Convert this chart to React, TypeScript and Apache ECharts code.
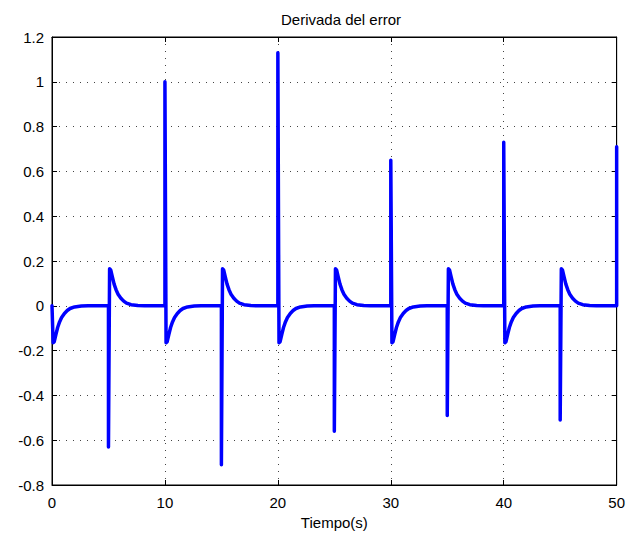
import React, { useEffect, useRef } from "react";
import * as echarts from "echarts";

const titleText = "Derivada del error";
const xLabelText = "Tiempo(s)";
const xTicks = [0, 10, 20, 30, 40, 50];
const yTicks = [-0.8, -0.6, -0.4, -0.2, 0, 0.2, 0.4, 0.6, 0.8, 1, 1.2];

// Times at which the error derivative spikes, and the spike values
const spikeTimes = [5, 10, 15, 20, 25, 30, 35, 40, 45, 50];
const spikePeaks = [-0.63, 1.0, -0.71, 1.13, -0.56, 0.65, -0.49, 0.73, -0.51, 0.71];

// Transient after each spike (time after spike, magnitude)
const recoveryOffsets = [0.1, 0.2, 0.35, 0.5, 0.67, 0.85, 1.1, 1.35, 1.6, 2.0, 2.6, 3.2];
const recoveryMagnitudes = [0.165, 0.16, 0.128, 0.097, 0.072, 0.052, 0.034, 0.021, 0.012, 0.005, 0.001, 0];

// Start: curve begins at 0 and dips negative
const startTime = 0;
const startValue = 0;
const startSign = -1;

function buildData(): [number, number][] {
  const pts: [number, number][] = [[startTime, startValue]];
  recoveryOffsets.forEach((o, i) => pts.push([startTime + o, startSign * recoveryMagnitudes[i]]));
  spikeTimes.forEach((t, k) => {
    const p = spikePeaks[k];
    pts.push([t, 0]);
    pts.push([t, p]);
    const s = p > 0 ? -1 : 1;
    recoveryOffsets.forEach((o, i) => {
      if (t + o <= xTicks[xTicks.length - 1]) pts.push([t + o, s * recoveryMagnitudes[i]]);
    });
  });
  return pts;
}

export default function App() {
  const ref = useRef<HTMLDivElement>(null);
  useEffect(() => {
    document.body.style.margin = "0";
    if (!ref.current) return;
    const chart = echarts.init(ref.current, null, { renderer: "svg" });
    const font = "'Liberation Sans', Arial, sans-serif";
    const gridLine = { show: true, lineStyle: { color: "#444", type: [1, 6] as any, width: 1 } };
    chart.setOption({
      animation: false,
      backgroundColor: "#fff",
      title: {
        text: titleText,
        left: 336,
        top: 7,
        textAlign: "center",
        textStyle: { fontFamily: font, fontSize: 15, fontWeight: "normal", color: "#000" },
      },
      grid: { left: 52, right: 8, top: 37, bottom: 48, show: true, borderColor: "#000", borderWidth: 1, backgroundColor: "transparent" },
      xAxis: [
        {
          type: "value",
          min: xTicks[0],
          max: xTicks[xTicks.length - 1],
          interval: 10,
          name: xLabelText,
          nameLocation: "middle",
          nameGap: 30,
          nameTextStyle: { fontFamily: font, fontSize: 15, color: "#000" },
          axisLine: { show: true, onZero: false, lineStyle: { color: "#000", width: 1 } },
          axisTick: { show: true, inside: true, length: 5, lineStyle: { color: "#000" } },
          axisLabel: { fontFamily: font, fontSize: 15, color: "#000", margin: 10 },
          splitLine: gridLine,
        },
        {
          type: "value",
          position: "top",
          min: xTicks[0],
          max: xTicks[xTicks.length - 1],
          interval: 10,
          axisLine: { show: true, onZero: false, lineStyle: { color: "#000", width: 1 } },
          axisTick: { show: true, inside: true, length: 5, lineStyle: { color: "#000" } },
          axisLabel: { show: false },
          splitLine: { show: false },
        },
      ],
      yAxis: [
        {
          type: "value",
          min: yTicks[0],
          max: yTicks[yTicks.length - 1],
          interval: 0.2,
          axisLine: { show: true, onZero: false, lineStyle: { color: "#000", width: 1 } },
          axisTick: { show: true, inside: true, length: 5, lineStyle: { color: "#000" } },
          axisLabel: {
            fontFamily: font,
            fontSize: 15,
            color: "#000",
            margin: 8,
            formatter: (v: number) => String(parseFloat(v.toFixed(1))),
          },
          splitLine: gridLine,
        },
        {
          type: "value",
          position: "right",
          min: yTicks[0],
          max: yTicks[yTicks.length - 1],
          interval: 0.2,
          axisLine: { show: true, onZero: false, lineStyle: { color: "#000", width: 1 } },
          axisTick: { show: true, inside: true, length: 5, lineStyle: { color: "#000" } },
          axisLabel: { show: false },
          splitLine: { show: false },
        },
      ],
      series: [
        {
          type: "line",
          data: buildData(),
          showSymbol: false,
          symbol: "none",
          clip: true,
          lineStyle: { color: "#0000ff", width: 3.5, join: "round", cap: "round" },
        },
      ],
    });
    return () => chart.dispose();
  }, []);
  return <div ref={ref} style={{ width: 628, height: 535 }} />;
}
